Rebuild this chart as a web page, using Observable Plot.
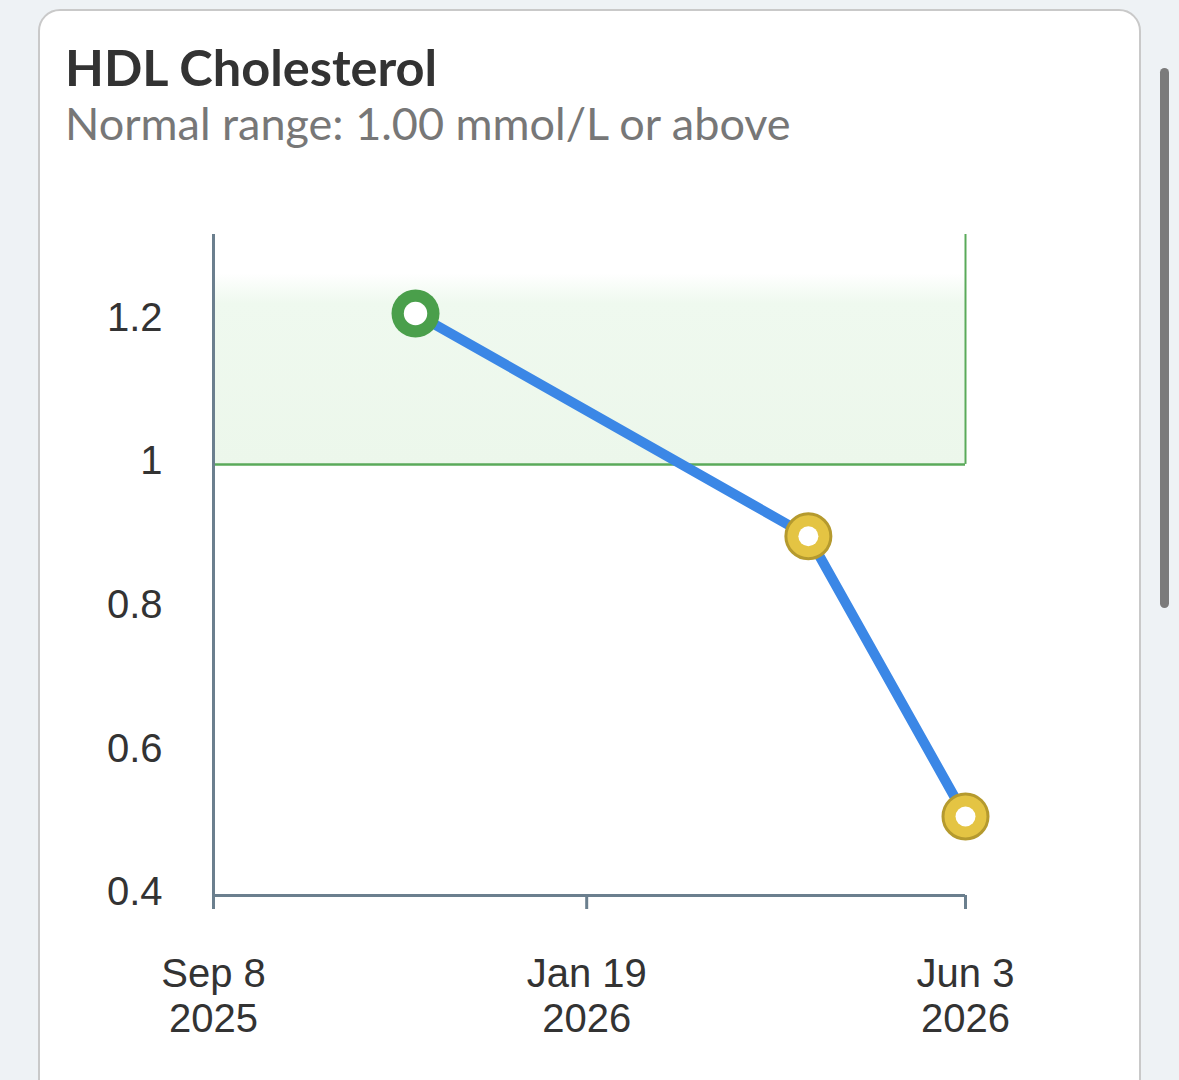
<!DOCTYPE html>
<html>
<head>
<meta charset="utf-8">
<script src="https://cdn.jsdelivr.net/npm/d3@7"></script>
<script src="https://cdn.jsdelivr.net/npm/@observablehq/plot@0.6"></script>
<style>
  html, body { margin: 0; padding: 0; background: #eef2f5; width: 1179px; height: 1080px; overflow: hidden; }
  #card { position: absolute; left: 38px; top: 9px; width: 1099px; height: 1200px; background: #fff;
          border: 2px solid #c9c9c9; border-radius: 22px; }
  #title { position: absolute; left: 65px; top: 42px; font-family: Lato, "Noto Sans", sans-serif; font-weight: 700;
           font-size: 50.5px; color: #333; line-height: 1; margin: 0; }
  #subtitle { position: absolute; left: 65px; top: 101px; font-family: Lato, "Noto Sans", sans-serif; font-weight: 400;
              font-size: 45px; color: #777; line-height: 1; margin: 0; }
  #chart { position: absolute; left: 0; top: 200px; }
  #scroll { position: absolute; left: 1160px; top: 68px; width: 9px; height: 540px; background: #7b7b7b; border-radius: 5px; }
</style>
</head>
<body>
<div id="card"></div>
<div id="title">HDL Cholesterol</div>
<div id="subtitle">Normal range: 1.00 mmol/L or above</div>
<div id="chart"></div>
<div id="scroll"></div>
<script>
// ---- data ----
const dates = ["2025-11-19", "2026-04-08", "2026-06-03"];
const values = [1.21, 0.90, 0.51];
const xTicks = ["2025-09-08", "2026-01-19", "2026-06-03"];
const yTicks = [0.4, 0.6, 0.8, 1, 1.2];
const normalMin = 1.0;
const xDomain = ["2025-09-08", "2026-06-03"];
const yDomain = [0.4, 1.32];

const data = dates.map((d, i) => ({date: new Date(d), value: values[i]}));
const xd = xDomain.map(d => new Date(d));
const xt = xTicks.map(d => new Date(d));

const green = "#4a9f4b";
const yellow = "#e4c443";
const yellowDark = "#b59a2e";
const axisColor = "#6b7f8e";
const fmt = d3.utcFormat("%b %-d\n%Y");
const inRange = d => d.value >= normalMin;

const band = [{x1: xd[0], x2: xd[1], y1: normalMin, y2: yDomain[1]}];

const plot = Plot.plot({
  width: 1100,
  height: 870,
  marginLeft: 213,
  marginRight: 135,
  marginTop: 34,
  marginBottom: 175,
  style: {fontFamily: "'Liberation Sans', Arial, sans-serif", fontSize: "40px", color: "#333", background: "transparent"},
  x: {type: "utc", domain: xd},
  y: {domain: yDomain},
  marks: [
    () => {
      const ns = "http://www.w3.org/2000/svg";
      const defs = document.createElementNS(ns, "defs");
      defs.innerHTML = `<linearGradient id="bandGrad" x1="0" y1="0" x2="0" y2="1">
        <stop offset="0" stop-color="#ffffff"/>
        <stop offset="0.17" stop-color="#ffffff"/>
        <stop offset="0.30" stop-color="#eff9ef"/>
        <stop offset="1" stop-color="#ecf7eb"/>
      </linearGradient>`;
      return defs;
    },
    Plot.rect(band, {x1: "x1", x2: "x2", y1: "y1", y2: "y2", fill: "url(#bandGrad)"}),
    Plot.ruleY(band, {y: "y1", x1: "x1", x2: "x2", stroke: "#5aaa5a", strokeWidth: 2.5}),
    Plot.ruleX(band, {x: "x2", y1: "y1", y2: "y2", stroke: "#5aaa5a", strokeWidth: 2}),
    Plot.ruleX([xd[0]], {y1: yDomain[0], y2: yDomain[1], stroke: axisColor, strokeWidth: 3}),
    Plot.ruleY([yDomain[0]], {x1: xd[0], x2: xd[1], stroke: axisColor, strokeWidth: 3}),
    Plot.axisX({ticks: xt, tickFormat: fmt, tickSize: 14, tickPadding: 46, stroke: axisColor, strokeWidth: 3,
                fill: "#333", lineHeight: 1.12, fontSize: 40}),
    Plot.axisY({ticks: yTicks, tickFormat: d => String(d), tickSize: 0, tickPadding: 51, fill: "#333", dy: -3, fontSize: 40}),
    Plot.line(data, {x: "date", y: "value", stroke: "#3b87e6", strokeWidth: 10}),
    Plot.dot(data, {filter: inRange, x: "date", y: "value", r: 24, fill: green}),
    Plot.dot(data, {filter: inRange, x: "date", y: "value", r: 11.7, fill: "white"}),
    Plot.dot(data, {filter: d => !inRange(d), x: "date", y: "value", r: 22.5, fill: yellow, stroke: yellowDark, strokeWidth: 3}),
    Plot.dot(data, {filter: d => !inRange(d), x: "date", y: "value", r: 10, fill: "white"})
  ]
});
document.getElementById("chart").appendChild(plot);
</script>
</body>
</html>
